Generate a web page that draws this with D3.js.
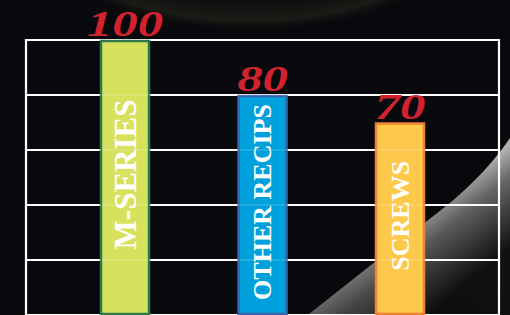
<!DOCTYPE html>
<html>
<head>
<meta charset="utf-8">
<script src="https://cdn.jsdelivr.net/npm/d3@7"></script>
<style>
  html, body { margin: 0; padding: 0; background: #07090c; }
  svg { display: block; }
</style>
</head>
<body>
<script>
const categories = ["M-SERIES", "OTHER RECIPS", "SCREWS"];
const values = [100, 80, 70];
const valueLabels = ["100", "80", "70"];
const yTicks = [0, 20, 40, 60, 80, 100];

const width = 510;
const height = 315;
const fills = ["#d7e15e", "#00a0dc", "#fec84a"];
const strokes = ["#2c7a4b", "#3b63a9", "#ee8136"];
const labelSizes = [31, 26, 26];

const svg = d3.select("body").append("svg")
  .attr("width", width)
  .attr("height", height);

const defs = svg.append("defs");

// faint glow at the top
const glow = defs.append("radialGradient").attr("id", "glow")
  .attr("cx", "50%").attr("cy", "50%").attr("r", "50%");
glow.append("stop").attr("offset", "0%").attr("stop-color", "#000000").attr("stop-opacity", 0);
glow.append("stop").attr("offset", "65%").attr("stop-color", "#121210").attr("stop-opacity", 0.5);
glow.append("stop").attr("offset", "88%").attr("stop-color", "#22221a").attr("stop-opacity", 0.75);
glow.append("stop").attr("offset", "100%").attr("stop-color", "#07090c").attr("stop-opacity", 0);

// grey swoosh at bottom right: bright along its edge, fading inwards
const swoosh = defs.append("linearGradient").attr("id", "swoosh")
  .attr("gradientUnits", "userSpaceOnUse")
  .attr("x1", 420).attr("y1", 220).attr("x2", 470).attr("y2", 280);
swoosh.append("stop").attr("offset", "0%").attr("stop-color", "#b4b4b2");
swoosh.append("stop").attr("offset", "30%").attr("stop-color", "#6e6e6c");
swoosh.append("stop").attr("offset", "100%").attr("stop-color", "#141414");

const swooshAlong = defs.append("linearGradient").attr("id", "swooshAlong")
  .attr("gradientUnits", "userSpaceOnUse")
  .attr("x1", 310).attr("y1", 315).attr("x2", 510).attr("y2", 140);
swooshAlong.append("stop").attr("offset", "0%").attr("stop-color", "#000").attr("stop-opacity", 0.45);
swooshAlong.append("stop").attr("offset", "100%").attr("stop-color", "#000").attr("stop-opacity", 0);

svg.append("rect")
  .attr("width", width).attr("height", height)
  .attr("fill", "#07090c");

svg.append("ellipse")
  .attr("cx", 250).attr("cy", -60)
  .attr("rx", 215).attr("ry", 92)
  .attr("fill", "url(#glow)");

const swooshPath = "M308,315 C350,282 400,242 450,203 C475,182 495,160 510,138 L510,315 Z";
svg.append("path").attr("d", swooshPath).attr("fill", "url(#swoosh)");
svg.append("path").attr("d", swooshPath).attr("fill", "url(#swooshAlong)");

const y = d3.scaleLinear().domain([0, 100]).range([315, 40]);
const x = d3.scalePoint().domain(categories).range([125, 400]);
const barW = 48;
const left = 26, right = 499;

// grid
const grid = svg.append("g");
grid.selectAll("line.h")
  .data(yTicks)
  .join("line")
  .attr("class", "h")
  .attr("x1", left).attr("x2", right)
  .attr("y1", d => y(d)).attr("y2", d => y(d))
  .attr("stroke", "#ffffff")
  .attr("stroke-width", 2.2);
grid.selectAll("line.v")
  .data([left, right])
  .join("line")
  .attr("class", "v")
  .attr("x1", d => d).attr("x2", d => d)
  .attr("y1", y(100) - 1).attr("y2", height)
  .attr("stroke", "#ffffff")
  .attr("stroke-width", 2.2);

// bars
const bars = svg.append("g");
bars.selectAll("rect")
  .data(values)
  .join("rect")
  .attr("x", (d, i) => x(categories[i]) - barW / 2)
  .attr("y", d => y(d) + 1)
  .attr("width", barW)
  .attr("height", d => y(0) - y(d) - 2)
  .attr("fill", (d, i) => fills[i])
  .attr("stroke", (d, i) => strokes[i])
  .attr("stroke-width", 2.5);

// faint grid showing through bars
svg.append("g").selectAll("line")
  .data(yTicks.filter(d => d > 0 && d < 100))
  .join("line")
  .attr("x1", left).attr("x2", right)
  .attr("y1", d => y(d)).attr("y2", d => y(d))
  .attr("stroke", "#ffffff")
  .attr("stroke-opacity", 0.18)
  .attr("stroke-width", 1.5);

// category labels
svg.append("g").selectAll("text")
  .data(categories)
  .join("text")
  .attr("transform", (d, i) => {
    const cy = (y(values[i]) + y(0)) / 2 - 3;
    return `translate(${x(d) + labelSizes[i] * 0.34},${cy}) rotate(-90)`;
  })
  .attr("text-anchor", "middle")
  .attr("font-family", "'Liberation Serif', 'DejaVu Serif', serif")
  .attr("font-weight", "bold")
  .attr("font-size", (d, i) => labelSizes[i])
  .attr("fill", "#ffffff")
  .text(d => d);

// value labels
svg.append("g").selectAll("text")
  .data(valueLabels)
  .join("text")
  .attr("transform", (d, i) => `translate(${x(categories[i])},${y(values[i]) - 4}) scale(1.45,1)`)
  .attr("text-anchor", "middle")
  .attr("font-family", "'Liberation Serif', 'DejaVu Serif', serif")
  .attr("font-weight", "bold")
  .attr("font-style", "italic")
  .attr("font-size", 35)
  .attr("fill", "#d1232d")
  .text(d => d);
</script>
</body>
</html>
